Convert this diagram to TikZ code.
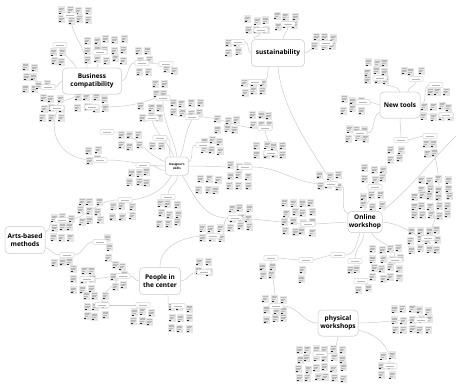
\documentclass[tikz,border=0pt]{standalone}
\usepackage{fontspec}
\setmainfont{Open Sans}
\begin{document}
\begin{tikzpicture}[x=1pt,y=-1pt,
  conn/.style={draw=gray!40, line width=0.5pt},
  mainbox/.style={draw=gray!35, fill=white, rounded corners=4pt, line width=0.5pt, align=center, inner sep=1pt, font=\fontsize{6.5}{8}\selectfont\bfseries},
  subbox/.style={draw=gray!45, fill=white, rounded corners=1pt, minimum width=14pt, minimum height=5pt, inner sep=0pt, line width=0.3pt,
    path picture={\draw[gray!55,line width=0.5pt] ([xshift=3pt]path picture bounding box.west) -- ([xshift=-3pt]path picture bounding box.east);}},
  notefill/.style={fill=gray!20},
  notetext/.style={draw=gray!55, line width=0.4pt}
]
\useasboundingbox (0,0) rectangle (456,386);
\fill[white] (0,0) rectangle (456,386);
\pgfmathsetseed{7}
\newcommand\stk[2]{%
  \fill[notefill] (#1,#2) rectangle ++(7,8);
  \draw[notetext] (#1+1,#2+1.5) -- ++(5,0) (#1+1,#2+3) -- ++(4.5,0) (#1+1,#2+4.5) -- ++(3.5,0);
  \fill[black!85] (#1+0.8,#2+6.2) rectangle ++(2,0.9);}
\newcommand\grp[4]{%
  \foreach \c in {1,...,#3}{\foreach \r in {1,...,#4}{%
    \pgfmathsetmacro\xx{#1+(\c-1)*8.7+rand*1.4}%
    \pgfmathsetmacro\yy{#2+(\r-1)*9.7+rand*1.4}%
    \stk{\xx}{\yy}}}}

% main nodes
\path
 node[mainbox, minimum width=59pt, minimum height=26pt] (BC) at (92,81) {Business\\compatibility}
 node[mainbox, minimum width=53pt, minimum height=27pt] (SU) at (278,53) {sustainability}
 node[mainbox, minimum width=40pt, minimum height=26pt] (NT) at (400,105) {New tools}
 node[mainbox, minimum width=23pt, minimum height=18pt, rounded corners=3pt, font=\fontsize{3}{3.8}\selectfont\bfseries] (DS) at (177,166) {Designer's\\skills}
 node[mainbox, minimum width=40pt, minimum height=27pt] (AB) at (25,240) {Arts-based\\methods}
 node[mainbox, minimum width=41pt, minimum height=27pt] (PC) at (160,281) {People in\\the center}
 node[mainbox, minimum width=33pt, minimum height=21pt] (OW) at (365,222) {Online\\workshop}
 node[mainbox, minimum width=40pt, minimum height=26pt] (PW) at (338,323) {physical\\workshops};

% sub nodes
\path
 node[subbox] (bc1) at (70,15) {} node[subbox] (bc2) at (60,45) {} node[subbox] (bc3) at (100,52) {}
 node[subbox] (bc4) at (142,63) {} node[subbox] (bc5) at (166,64) {} node[subbox] (bc6) at (48,87) {}
 node[subbox] (bc7) at (57,108) {} node[subbox] (bc8) at (92,107) {}
 node[subbox] (ds1) at (163,98) {} node[subbox] (ds2) at (152,118) {} node[subbox] (ds3) at (160,138) {}
 node[subbox] (ds4) at (192,117) {} node[subbox] (ds5) at (203,145) {} node[subbox] (ds6) at (100,160) {}
 node[subbox] (ds7) at (143,165) {} node[subbox] (ds8) at (107,132) {}
 node[subbox] (su1) at (261,30) {} node[subbox] (su2) at (288,24) {} node[subbox] (su3) at (238,42) {}
 node[subbox] (su4) at (326,43) {} node[subbox] (su5) at (255,82) {} node[subbox] (su6) at (265,128) {}
 node[subbox] (su7) at (271,153) {}
 node[subbox] (nt1) at (380,78) {} node[subbox] (nt2) at (416,79) {} node[subbox] (nt3) at (436,85) {}
 node[subbox] (nt4) at (363,102) {} node[subbox] (nt5) at (360,133) {} node[subbox] (nt6) at (446,115) {}
 node[subbox] (nt7) at (401,140) {} node[subbox] (nt8) at (430,136) {}
 node[subbox] (ow0) at (235,218) {} node[subbox] (ow1) at (308,224) {} node[subbox] (ow2) at (428,238) {}
 node[subbox] (ow3) at (375,187) {} node[subbox] (ow4) at (338,255) {} node[subbox] (ow5) at (355,261) {}
 node[subbox] (ow6) at (395,260) {} node[subbox] (ow7) at (306,260) {} node[subbox] (ow8) at (271,258) {}
 node[subbox] (ow9) at (361,281) {} node[subbox] (ow10) at (245,167) {} node[subbox] (ow11) at (331,184) {}
 node[subbox] (pc1) at (204,272) {} node[subbox] (pc2) at (178,306) {} node[subbox] (pc3) at (143,305) {}
 node[subbox] (pc4) at (102,305) {} node[subbox] (pc5) at (123,276) {} node[subbox] (pc6) at (87,279) {}
 node[subbox] (pc7) at (168,197) {} node[subbox] (pc8) at (213,236) {}
 node[subbox] (ab1) at (62,220) {} node[subbox] (ab2) at (67,255) {} node[subbox] (ab3) at (100,242) {}
 node[subbox] (abt) at (125,200) {}
 node[subbox] (pw1) at (276,306) {} node[subbox] (pw2) at (421,320) {} node[subbox] (pw3) at (390,366) {}
 node[subbox] (pw4) at (320,354) {};
\coordinate (ne) at (456,136);

% connectors
\draw[conn] (BC.110) to[out=95,in=-80] (bc1.south);
\draw[conn] (BC.140) to[out=120,in=-60] (bc2.south);
\draw[conn] (BC.70) to[out=80,in=-90] (bc3.south);
\draw[conn] (BC.east) to[out=20,in=180] (bc4.west);
\draw[conn] (bc4.east) -- (bc5.west);
\draw[conn] (BC.west) to[out=190,in=0] (bc6.east);
\draw[conn] (BC.220) to[out=-120,in=60] (bc7.north);
\draw[conn] (BC.south) to[out=-80,in=90] (bc8.north);
\draw[conn] (bc8.east) to[out=0,in=-160] (ds1.west);
\draw[conn] (bc7.south) to[out=-110,in=180,looseness=1.2] (ds6.west);
\draw[conn] (DS.north) to[out=100,in=-90] (ds1.south);
\draw[conn] (DS.110) to[out=110,in=-70] (ds2.south);
\draw[conn] (DS.125) to[out=120,in=-30] (ds3.east);
\draw[conn] (DS.70) to[out=70,in=-120] (ds4.south);
\draw[conn] (DS.20) to[out=30,in=180] (ds5.west);
\draw[conn] (DS.west) to[out=180,in=0] (ds6.east);
\draw[conn] (DS.200) to[out=190,in=0] (ds7.east);
\draw[conn] (DS.160) to[out=160,in=0] (ds8.east);
\draw[conn] (ds4.east) to[out=0,in=180] (su6.west);
\draw[conn] (DS.east) to[out=0,in=180] (ow10.west);
\draw[conn] (ow10.east) to[out=0,in=180] (ow11.west);
\draw[conn] (DS.south) to[out=-80,in=90] (pc7.north);
\draw[conn] (DS.-60) to[out=-60,in=180] (ow0.west);
\draw[conn] (abt.east) to[out=10,in=-120] (DS.240);
\draw[conn] (su7.north) to[out=100,in=-80] (su6.south);
\draw[conn] (SU.west) to[out=180,in=0] (su3.east);
\draw[conn] (SU.150) to[out=150,in=-90] (su1.south);
\draw[conn] (SU.70) to[out=90,in=-90] (su2.south);
\draw[conn] (SU.east) to[out=0,in=180] (su4.west);
\draw[conn] (SU.235) to[out=-100,in=0] (su5.east);
\draw[conn] (SU.south) .. controls (282,110) and (312,150) .. (ow11.north);
\draw[conn] (ow11.east) to[out=0,in=150] (OW.155);
\draw[conn] (NT.north) to[out=110,in=-60] (nt1.south);
\draw[conn] (NT.60) to[out=80,in=-100] (nt2.south);
\draw[conn] (NT.east) to[out=10,in=-150] (nt3.west);
\draw[conn] (NT.west) to[out=180,in=0] (nt4.east);
\draw[conn] (NT.200) to[out=200,in=0] (nt5.east);
\draw[conn] (NT.-20) to[out=-10,in=180] (nt6.west);
\draw[conn] (NT.south) to[out=-90,in=90] (nt7.north);
\draw[conn] (nt7.east) -- (nt8.west);
\draw[conn] (nt8.south) .. controls (440,170) and (445,205) .. (ow2.north);
\draw[conn] (ne) to[out=225,in=40] (OW.north east);
\draw[conn] (OW.west) -- (ow1.east);
\draw[conn] (ow1.west) -- (ow0.east);
\draw[conn] (OW.east) to[out=-5,in=150] (ow2.west);
\draw[conn] (OW.north) to[out=100,in=-90] (ow3.south);
\draw[conn] (OW.-115) to[out=-110,in=0] (ow4.east);
\draw[conn] (ow4.west) -- (ow7.east);
\draw[conn] (ow7.west) -- (ow8.east);
\draw[conn] (OW.-95) to[out=-90,in=90] (ow5.north);
\draw[conn] (OW.-60) to[out=-60,in=90] (ow6.north);
\draw[conn] (ow8.south) -- (pw1.north);
\draw[conn] (pw1.east) to[out=0,in=180] (PW.west);
\draw[conn] (PC.north) to[out=90,in=180] (pc8.west);
\draw[conn] (pc8.east) to[out=0,in=200] (ow0.west);
\draw[conn] (PC.east) to[out=0,in=180] (pc1.west);
\draw[conn] (PC.-60) to[out=-80,in=180] (pc2.west);
\draw[conn] (PC.west) to[out=180,in=0] (pc5.east);
\draw[conn] (pc5.west) -- (pc6.east);
\draw[conn] (pc5.210) to[out=-120,in=90] (pc4.north);
\draw[conn] (pc4.east) -- (pc3.west);
\draw[conn] (AB.20) to[out=20,in=180] (ab1.west);
\draw[conn] (AB.-20) to[out=-20,in=180] (ab2.west);
\draw[conn] (ab2.east) to[out=0,in=180] (ab3.west);
\draw[conn] (ab1.east) to[out=10,in=180] (abt.west);
\draw[conn] (PW.east) to[out=0,in=180] (pw2.west);
\draw[conn] (PW.-20) to[out=-10,in=90] (pw3.north);
\draw[conn] (PW.south) to[out=-100,in=0] (pw4.east);

% sticky note clusters
\grp{58}{6}{4}{2}\grp{50}{48}{2}{2}\grp{85}{36}{5}{3}\grp{136}{47}{2}{3}\grp{162}{66}{2}{1}
\grp{23}{64}{2}{3}\grp{35}{80}{2}{1}\grp{40}{95}{3}{3}\grp{75}{94}{4}{2}\grp{118}{132}{3}{2}
\grp{153}{80}{2}{2}\grp{138}{103}{3}{2}\grp{150}{141}{2}{1}\grp{170}{99}{4}{2}\grp{200}{137}{3}{2}
\grp{85}{146}{2}{2}\grp{127}{168}{3}{2}\grp{196}{176}{3}{2}\grp{215}{116}{3}{2}
\grp{244}{16}{3}{2}\grp{274}{12}{3}{2}\grp{226}{38}{2}{2}\grp{312}{33}{3}{2}\grp{241}{78}{3}{2}
\grp{364}{58}{3}{3}\grp{400}{67}{3}{1}\grp{426}{88}{3}{1}\grp{341}{96}{3}{2}\grp{345}{125}{3}{2}
\grp{420}{103}{4}{2}\grp{388}{145}{2}{2}\grp{423}{140}{2}{2}\grp{249}{111}{3}{2}\grp{254}{141}{4}{2}
\grp{227}{162}{3}{3}\grp{317}{172}{3}{2}\grp{362}{165}{3}{2}\grp{418}{176}{4}{2}
\grp{78}{197}{3}{3}\grp{110}{203}{3}{2}\grp{157}{200}{3}{3}\grp{199}{224}{3}{2}\grp{50}{214}{3}{3}
\grp{50}{258}{3}{1}\grp{105}{234}{1}{3}\grp{71}{266}{3}{3}\grp{111}{262}{2}{3}\grp{84}{292}{3}{3}
\grp{130}{308}{3}{2}\grp{168}{304}{3}{3}\grp{196}{258}{2}{2}
\grp{228}{204}{3}{3}\grp{282}{199}{4}{4}\grp{360}{192}{3}{2}\grp{410}{192}{5}{3}\grp{408}{226}{4}{3}
\grp{260}{262}{2}{2}\grp{299}{266}{1}{2}\grp{346}{266}{2}{1}\grp{370}{245}{4}{4}\grp{356}{285}{2}{1}
\grp{263}{296}{3}{3}\grp{391}{306}{5}{3}\grp{379}{352}{2}{3}\grp{296}{345}{6}{4}

% redraw nodes on top
\path
 node[mainbox, minimum width=59pt, minimum height=26pt] at (BC) {Business\\compatibility}
 node[mainbox, minimum width=53pt, minimum height=27pt] at (SU) {sustainability}
 node[mainbox, minimum width=40pt, minimum height=26pt] at (NT) {New tools}
 node[mainbox, minimum width=23pt, minimum height=18pt, rounded corners=3pt, font=\fontsize{3}{3.8}\selectfont\bfseries] at (DS) {Designer's\\skills}
 node[mainbox, minimum width=40pt, minimum height=27pt] at (AB) {Arts-based\\methods}
 node[mainbox, minimum width=41pt, minimum height=27pt] at (PC) {People in\\the center}
 node[mainbox, minimum width=33pt, minimum height=21pt] at (OW) {Online\\workshop}
 node[mainbox, minimum width=40pt, minimum height=26pt] at (PW) {physical\\workshops};
\foreach \s in {bc1,bc2,bc3,bc4,bc5,bc6,bc7,bc8,ds1,ds2,ds3,ds4,ds5,ds6,ds7,ds8,su1,su2,su3,su4,su5,su6,su7,nt1,nt2,nt3,nt4,nt5,nt6,nt7,nt8,ow0,ow1,ow2,ow3,ow4,ow5,ow6,ow7,ow8,ow9,ow10,ow11,pc1,pc2,pc3,pc4,pc5,pc6,pc7,pc8,ab1,ab2,ab3,abt,pw1,pw2,pw3,pw4}
  \path node[subbox] at (\s) {};
\end{tikzpicture}
\end{document}
